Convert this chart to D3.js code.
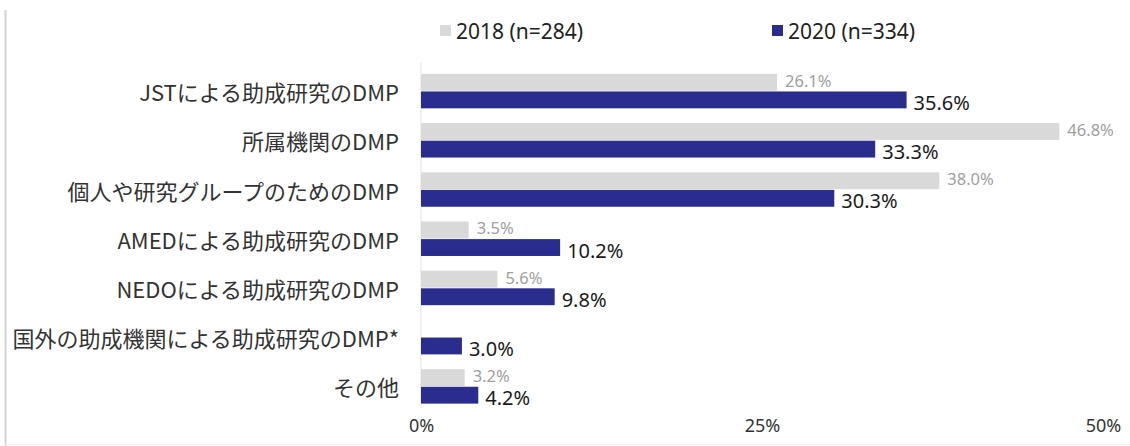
<!DOCTYPE html>
<html><head><meta charset="utf-8">
<script src="https://cdn.jsdelivr.net/npm/d3@7"></script>
<style>body{margin:0;background:#fff;}svg{display:block;font-family:"Noto Sans CJK JP","Noto Sans",sans-serif;}</style>
</head><body>
<svg id="c" width="1130" height="446"></svg>
<script>
const categories = ["JSTによる助成研究のDMP","所属機関のDMP","個人や研究グループのためのDMP","AMEDによる助成研究のDMP","NEDOによる助成研究のDMP","国外の助成機関による助成研究のDMP*","その他"];
const series = ["2018 (n=284)","2020 (n=334)"];
const values2018 = [26.1, 46.8, 38.0, 3.5, 5.6, null, 3.2];
const values2020 = [35.6, 33.3, 30.3, 10.2, 9.8, 3.0, 4.2];
const ticks = [0, 25, 50];
const colors = ["#d9d9d9", "#2b2d8e"];

const svg = d3.select("#c");
const x = d3.scaleLinear().domain([0, 50]).range([421, 1103]);
const y = d3.scaleBand().domain(categories).range([66.5, 411]).paddingInner(0.3).paddingOuter(0.15);
const ys = d3.scaleBand().domain(series).range([0, y.bandwidth()]).paddingInner(0.04);

// frame
svg.append("line").attr("x1",5.5).attr("x2",5.5).attr("y1",10).attr("y2",446).attr("stroke","#d4d4d4").attr("stroke-width",2);
svg.append("line").attr("x1",5).attr("x2",1130).attr("y1",444.5).attr("y2",444.5).attr("stroke","#f0f0f0").attr("stroke-width",1);

// axis line
svg.append("line").attr("x1",x(0)).attr("x2",x(0)).attr("y1",63).attr("y2",408).attr("stroke","#e3e3e3").attr("stroke-width",1);

// x axis
const xAxis = d3.axisBottom(x).tickValues(ticks).tickFormat(d => d + "%").tickSize(0).tickPadding(0);
const gx = svg.append("g").attr("transform","translate(0,419)").call(xAxis);
gx.select(".domain").remove();
gx.selectAll("text").attr("font-size",18).attr("fill","#333").attr("font-family","'Noto Sans',sans-serif");

// category labels
svg.append("g").selectAll("text").data(categories).join("text")
  .attr("x", 399).attr("y", d => y(d) + y.bandwidth()/2)
  .attr("text-anchor","end").attr("dominant-baseline","central")
  .attr("font-size",22).attr("fill","#333").text(d => d);

const rows = categories.map((c,i) => ({c, v: [values2018[i], values2020[i]]}));
const g = svg.append("g").selectAll("g").data(rows).join("g").attr("transform", d => `translate(0,${y(d.c)})`);

series.forEach((s, si) => {
  const sub = g.filter(d => d.v[si] != null);
  sub.append("rect").attr("x", x(0)).attr("y", ys(s)).attr("height", ys.bandwidth())
    .attr("width", d => x(d.v[si]) - x(0)).attr("fill", colors[si]);
  sub.append("text")
    .attr("x", d => x(d.v[si]) + (si ? 7 : 8))
    .attr("y", ys(s) + ys.bandwidth()/2 + (si ? 2.5 : -2))
    .attr("dominant-baseline","central")
    .attr("font-family","'Noto Sans',sans-serif")
    .attr("font-size", si ? 20 : 16.5)
    .attr("fill", si ? "#1a1a1a" : "#a0a0a0")
    .text(d => d.v[si].toFixed(1) + "%");
});

// legend
const legX = [440, 772];
const leg = svg.append("g").selectAll("g").data(series).join("g").attr("transform",(d,i)=>`translate(${legX[i]},31)`);
leg.append("rect").attr("x",0).attr("y",-6).attr("width",11).attr("height",11).attr("fill",(d,i)=>colors[i]);
leg.append("text").attr("x",16).attr("y",0).attr("dominant-baseline","central")
  .attr("font-family","'Noto Sans',sans-serif").attr("font-size",21).attr("fill","#222").text(d=>d);
</script>
</body></html>
